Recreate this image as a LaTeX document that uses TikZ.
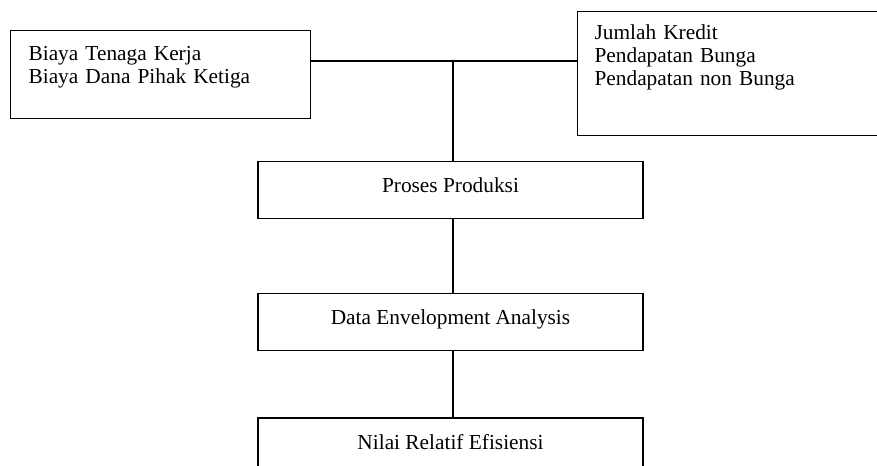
\documentclass[tikz,border=0pt]{standalone}
\usepackage{fontspec}
\setmainfont{Liberation Serif}
\usetikzlibrary{positioning}

\begin{document}
\begin{tikzpicture}[x=0.75pt,y=-0.75pt,line width=0.9pt,
        font=\fontsize{16pt}{17.25pt}\selectfont,
        every node/.style={draw,inner ysep=0pt},
        listbox/.style={anchor=north west,align=left},
        stagebox/.style={anchor=north,minimum width=288.75pt,
            text height=23.25pt,text depth=19.5pt}]
        % Keep the page to the size of the picture
        \clip (0,0) rectangle (877,466);
        % Inputs and outputs
        \node[listbox,inner xsep=13.5pt,text width=198pt,
            text height=22.5pt,text depth=43.5pt] (input) at (10,30)
            {Biaya Tenaga Kerja\\Biaya Dana Pihak Ketiga};
        \node[listbox,inner xsep=12.75pt,text width=222pt,
            text height=21pt,text depth=72pt] (output) at (577,11)
            {Jumlah Kredit\\Pendapatan Bunga\\Pendapatan non Bunga};
        % The stages
        \node[stagebox] (proses) at (450.5,161) {Proses Produksi};
        \node[stagebox,below=55.5pt of proses] (dea) {Data Envelopment Analysis};
        \node[stagebox,below=49.5pt of dea] (nilai) {Nilai Relatif Efisiensi};
        % Join the boxes
        \coordinate (join) at (453,61);
        \draw (input.east |- join) -- (output.west |- join);
        \draw (join) -- (join |- proses.north);
        \draw (join |- proses.south) -- (join |- dea.north);
        \draw (join |- dea.south) -- (join |- nilai.north);
    \end{tikzpicture}
\end{document}
